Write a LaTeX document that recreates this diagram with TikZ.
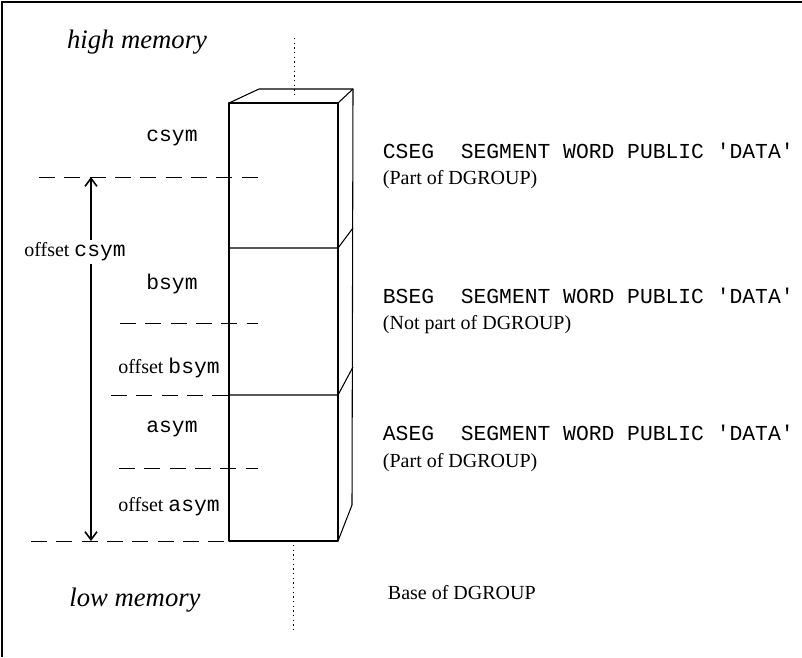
\documentclass[tikz,border=0pt]{standalone}
\usepackage{fontspec}
\setmainfont{Liberation Serif}
\setmonofont{Liberation Mono}
\usetikzlibrary{arrows.meta}

\begin{document}
\begin{tikzpicture}[x=0.75pt,y=-0.75pt,
  lbl/.style={font=\fontsize{15}{18}\selectfont, inner sep=2pt},
  mem/.style={font=\fontsize{20}{24}\selectfont\itshape},
  code/.style={font=\fontsize{16}{18}\selectfont\ttfamily},
  guide/.style={line width=0.6pt, dash pattern=on 12pt off 7pt},
  centre/.style={line width=0.6pt, dash pattern=on 1pt off 2.5pt},
  boxline/.style={line width=0.8pt, line join=round}]

\useasboundingbox (0,0) rectangle (802,657);

% frame (top and left edges only)
\draw[line width=1.1pt] (2,657) -- (2,2) -- (802,2);

% memory ends
\node[mem] (high) at (137,42) {high memory};
\node[mem] (low) at (135,600) {low memory};

% centre line of the stack
\draw[centre] (294,38) -- (294,95);
\draw[centre] (293,545) -- (293,630);

% the stack of three segments
\draw[boxline] (229,103) rectangle (338,541);
\draw[boxline] (229,248) -- (338,248) -- (353,228);
\draw[boxline] (229,395) -- (338,395) -- (353,367);
\draw[boxline] (338,541) -- (352,505) -- (353,89) -- (259,89) -- (229,103);
\draw[boxline] (338,103) -- (353,89);

% symbols inside the segments
\node[lbl, code] (csym) at (172,138) {csym};
\node[lbl, code] (bsym) at (172,284) {bsym};
\node[lbl, code] (asym) at (172,429) {asym};
\node[lbl] (offb) at (169,368) {offset {\fontsize{16}{18}\selectfont\ttfamily bsym}};
\node[lbl] (offa) at (169,507) {offset {\fontsize{16}{18}\selectfont\ttfamily asym}};

% guide lines
\draw[guide] (39,177) -- (258,177);
\draw[guide] (120,323) -- (258,323);
\draw[guide] (111,395) -- (229,395);
\draw[guide] (119,468) -- (258,468);
\draw[guide] (31,541) -- (229,541);

% offset of csym from the base
\coordinate (ctop) at (91,177);
\coordinate (cbot) at (91,541);
\node[lbl] (offc) at (75,252) {offset {\fontsize{16}{18}\selectfont\ttfamily csym}};
\draw[line width=0.8pt, -{Straight Barb[length=6pt,width=9pt,line width=1.2pt]}]
  (offc.north -| ctop) -- (ctop);
\draw[line width=0.8pt, -{Straight Barb[length=6pt,width=9pt,line width=1.2pt]}]
  (offc.south -| cbot) -- (cbot);

% segment declarations
\node[lbl, code, anchor=west] (cseg) at (380,151)
  {CSEG\hspace{20pt}SEGMENT WORD PUBLIC 'DATA'};
\node[lbl, anchor=west] (cnote) at (380,180) {(Part of DGROUP)};
\node[lbl, code, anchor=west] (bseg) at (380,296)
  {BSEG\hspace{20pt}SEGMENT WORD PUBLIC 'DATA'};
\node[lbl, anchor=west] (bnote) at (380,325) {(Not part of DGROUP)};
\node[lbl, code, anchor=west] (aseg) at (380,433)
  {ASEG\hspace{20pt}SEGMENT WORD PUBLIC 'DATA'};
\node[lbl, anchor=west] (anote) at (380,463) {(Part of DGROUP)};
\node[lbl, anchor=west] (base) at (385,593) {Base of DGROUP};

\end{tikzpicture}
\end{document}
